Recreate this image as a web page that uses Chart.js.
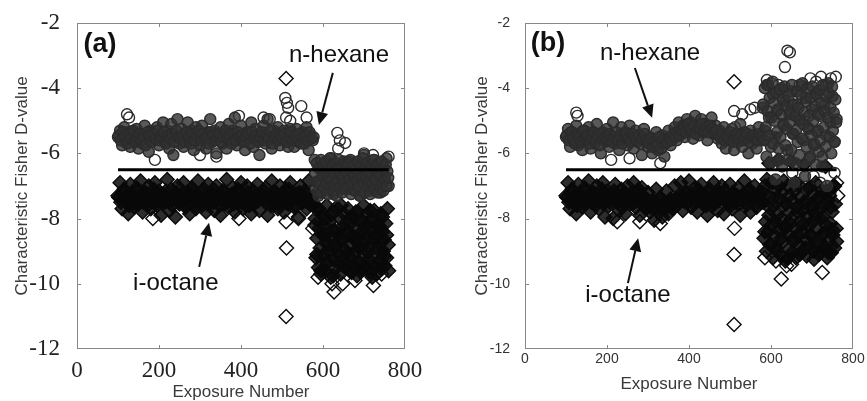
<!DOCTYPE html>
<html>
<head>
<title>Characteristic Fisher D-value</title>
<script src="https://cdn.jsdelivr.net/npm/chart.js"></script>
<style>
  body { margin: 0; background: #fff; }
  .panel { position: absolute; top: 0; height: 401px; }
  #panelA { left: 0; width: 430px; }
  #panelB { left: 430px; width: 437px; }
</style>
</head>
<body>
<div class="panel" id="panelA"><canvas id="chartA"></canvas></div>
<div class="panel" id="panelB"><canvas id="chartB"></canvas></div>
<script>
// exposure numbers sampled along the run
const exposures = [
  100,105,110,115,120,125,130,135,140,145,150,155,160,165,170,175,180,185,190,195,
  200,205,210,215,220,225,230,235,240,245,250,255,260,265,270,275,280,285,290,295,
  300,305,310,315,320,325,330,335,340,345,350,355,360,365,370,375,380,385,390,395,
  400,405,410,415,420,425,430,435,440,445,450,455,460,465,470,475,480,485,490,495,
  500,505,510,515,520,525,530,535,540,545,550,555,560,565,570,575,580,585,590,595,
  600,605,610,615,620,625,630,635,640,645,650,655,660,665,670,675,680,685,690,695,
  700,705,710,715,720,725,730,735,740,745,750,755,760
];
// in-between exposures of the first part of the run
const midExposures = [
  102,107,112,117,122,127,132,137,142,147,152,157,162,167,172,177,182,187,192,197,
  202,207,212,217,222,227,232,237,242,247,252,257,262,267,272,277,282,287,292,297,
  302,307,312,317,322,327,332,337,342,347,352,357,362,367,372,377,382,387,392,397,
  402,407,412,417,422,427,432,437,442,447,452,457,462,467,472,477,482,487,492,497,
  502,507,512,517,522,527,532,537,542,547,552,557,562,567,572,577
];
// finer sampling of the last part of the run
const lateExposures = [
  581,583,585,587,589,591,593,595,597,599,601,603,605,607,609,611,613,615,617,619,
  621,623,625,627,629,631,633,635,637,639,641,643,645,647,649,651,653,655,657,659,
  661,663,665,667,669,671,673,675,677,679,681,683,685,687,689,691,693,695,697,699,
  701,703,705,707,709,711,713,715,717,719,721,723,725,727,729,731,733,735,737,739,
  741,743,745,747,749,751,753,755,757,759
];

// (a) D-values
const hexaneA = [
  -5.5,-5.3,-5.75,-5.2,-5.6,-5.35,-5.8,-5.35,-5.65,-5.25,
  -5.85,-5.4,-5.7,-5.15,-5.55,-5.95,-5.3,-5.6,-5.5,-5.2,
  -5.75,-5.45,-5.05,-5.65,-5.3,-5.85,-5.1,-6.05,-5.5,-4.95,
  -5.7,-5.25,-5.8,-5.4,-5.05,-5.6,-5.3,-5.9,-5.2,-5.55,
  -5.75,-5.15,-5.5,-5.85,-5.35,-4.95,-5.65,-5.3,-6.0,-5.45,
  -5.2,-5.7,-5.4,-5.85,-5.1,-5.6,-5.3,-4.9,-5.75,-5.45,
  -5.15,-5.65,-5.9,-5.35,-5.55,-5.05,-5.8,-5.25,-5.6,-6.05,
  -5.4,-5.15,-5.7,-4.95,-5.5,-5.85,-5.3,-5.6,-5.2,-5.75,
  -5.45,-5.3,-5.6,-5.8,-5.25,-5.55,-5.8,-5.25,-5.65,-5.4,
  -5.35,-5.7,-5.2,-5.9,-5.45,-5.6,
  -6.2,-6.9,-6.45,-7.2,-6.6,-6.3,-7.0,-6.7,-6.15,-7.25,
  -6.5,-6.85,-6.4,-6.6,-7.05,-6.3,-6.95,-6.25,-7.1,-6.55,
  -6.8,-6.35,-7.3,-6.6,-6.05,-6.9,-6.45,-7.15,-6.7,-6.2,
  -6.95,-6.5,-7.2,-6.4,-6.75,-6.15,-7.0
];
const hexaneAMid = [
  -5.45,-5.6,-5.35,-5.5,-5.7,-5.4,-5.55,-5.3,-5.65,-5.5,
  -5.4,-5.6,-5.5,-5.75,-5.35,-5.45,-5.65,-5.4,-5.55,-5.3,
  -5.6,-5.5,-5.35,-5.7,-5.45,-5.55,-5.4,-5.65,-5.3,-5.5,
  -5.55,-5.45,-5.65,-5.35,-5.5,-5.7,-5.4,-5.6,-5.45,-5.3,
  -5.6,-5.4,-5.55,-5.5,-5.7,-5.35,-5.45,-5.6,-5.5,-5.4,
  -5.65,-5.5,-5.3,-5.55,-5.45,-5.7,-5.4,-5.6,-5.35,-5.5,
  -5.45,-5.6,-5.5,-5.4,-5.7,-5.35,-5.55,-5.45,-5.65,-5.5,
  -5.35,-5.6,-5.45,-5.55,-5.3,-5.7,-5.5,-5.4,-5.6,-5.45,
  -5.55,-5.4,-5.65,-5.5,-5.35,-5.6,-5.45,-5.55,-5.4,-5.7,
  -5.5,-5.45,-5.6,-5.35,-5.55,-5.5
];
const hexaneALate = [
  -6.6,-7.1,-6.3,-6.85,-7.3,-6.45,-6.95,-6.2,-7.2,-6.7,
  -6.4,-7.05,-6.55,-6.25,-6.9,-7.25,-6.5,-6.75,-6.15,-7.0,
  -6.8,-6.35,-7.15,-6.6,-6.95,-6.3,-7.3,-6.5,-6.85,-6.2,
  -7.05,-6.65,-6.4,-7.2,-6.75,-6.25,-6.9,-7.1,-6.45,-6.6,
  -6.3,-7.0,-6.8,-6.2,-7.25,-6.55,-6.95,-6.35,-6.7,-7.15,
  -6.5,-6.85,-6.25,-7.05,-6.6,-7.3,-6.4,-6.75,-6.15,-6.9,
  -7.2,-6.45,-6.7,-6.3,-7.0,-6.55,-6.85,-7.25,-6.35,-6.65,
  -6.95,-6.2,-7.1,-6.5,-6.8,-6.4,-7.2,-6.6,-6.3,-7.05,
  -6.7,-6.25,-6.9,-7.15,-6.45,-6.8,-6.35,-7.0,-6.55,-6.75
];
const octaneA = [
  -7.3,-6.9,-7.7,-7.1,-7.5,-7.85,-6.95,-7.4,-7.65,-7.05,
  -7.55,-6.85,-7.8,-7.2,-7.45,-7.0,-7.7,-7.35,-6.9,-7.6,
  -7.15,-7.9,-7.25,-7.5,-6.8,-7.75,-7.1,-7.4,-7.95,-7.0,
  -7.55,-7.3,-6.9,-7.65,-7.2,-7.85,-7.05,-7.45,-7.7,-6.85,
  -7.35,-7.6,-7.1,-7.8,-6.95,-7.5,-7.25,-7.75,-7.0,-7.4,
  -7.9,-7.15,-7.55,-6.8,-7.65,-7.3,-7.05,-7.8,-7.2,-7.45,
  -6.9,-7.7,-7.35,-7.0,-7.6,-7.85,-7.15,-7.5,-6.95,-7.75,
  -7.25,-7.4,-7.05,-7.9,-7.3,-6.85,-7.6,-7.2,-7.7,-7.0,
  -7.45,-7.8,-7.1,-7.55,-6.9,-7.35,-7.65,-7.25,-7.95,-7.0,
  -7.5,-7.15,-7.7,-6.85,-7.4,-7.6,
  -8.2,-9.1,-7.7,-9.6,-8.5,-8.0,-9.3,-8.8,-7.9,-9.75,
  -8.4,-9.0,-8.65,-7.6,-9.45,-8.3,-9.2,-8.0,-9.65,-8.55,
  -7.8,-9.35,-8.9,-8.15,-9.55,-8.45,-9.05,-7.75,-9.8,-8.6,
  -8.25,-9.4,-8.75,-7.95,-9.15,-8.5,-9.6
];
const octaneAMid = [
  -7.35,-7.5,-7.2,-7.45,-7.3,-7.6,-7.25,-7.4,-7.55,-7.15,
  -7.4,-7.3,-7.5,-7.2,-7.6,-7.35,-7.45,-7.1,-7.55,-7.3,
  -7.25,-7.5,-7.4,-7.15,-7.45,-7.35,-7.6,-7.3,-7.2,-7.5,
  -7.4,-7.25,-7.55,-7.35,-7.45,-7.1,-7.5,-7.3,-7.6,-7.4,
  -7.2,-7.45,-7.35,-7.55,-7.25,-7.4,-7.5,-7.15,-7.35,-7.6,
  -7.3,-7.45,-7.2,-7.5,-7.4,-7.25,-7.55,-7.35,-7.1,-7.45,
  -7.5,-7.3,-7.6,-7.2,-7.4,-7.35,-7.55,-7.25,-7.45,-7.3,
  -7.4,-7.15,-7.5,-7.35,-7.6,-7.2,-7.45,-7.3,-7.55,-7.4,
  -7.25,-7.5,-7.35,-7.1,-7.45,-7.3,-7.6,-7.4,-7.2,-7.5,
  -7.35,-7.45,-7.25,-7.55,-7.4,-7.3
];
const octaneALate = [
  -8.0,-9.2,-8.6,-7.7,-9.5,-8.3,-8.9,-9.7,-7.9,-8.5,
  -9.1,-8.2,-9.6,-8.75,-7.6,-9.35,-8.45,-9.0,-8.1,-9.8,
  -8.6,-7.8,-9.25,-8.35,-9.55,-8.85,-7.65,-9.1,-8.5,-9.4,
  -8.0,-9.7,-8.7,-8.25,-9.3,-7.85,-8.95,-9.5,-8.4,-9.05,
  -7.7,-8.8,-9.6,-8.15,-9.2,-8.55,-7.95,-9.45,-8.65,-9.0,
  -8.3,-9.75,-7.8,-8.9,-9.35,-8.45,-9.6,-8.05,-8.75,-7.6,
  -9.15,-8.6,-9.5,-8.2,-7.9,-9.25,-8.85,-9.65,-8.35,-8.0,
  -9.4,-8.7,-7.75,-9.05,-8.5,-9.7,-8.1,-8.95,-9.3,-8.25,
  -7.85,-9.55,-8.4,-9.0,-8.65,-9.45,-8.15,-9.2,-7.7,-8.8
];
// isolated (exposure, D-value) readings away from the main clouds in (a)
const hexaneAStray = [
  [122,-4.8],[127,-4.9],[190,-6.2],[300,-6.05],[340,-6.1],[395,-4.85],[455,-4.9],[470,-4.95],
  [508,-4.3],[512,-4.45],[515,-4.6],[510,-4.9],[520,-5.0],[547,-4.55],[560,-4.9],
  [635,-5.37],[641,-5.6],[654,-5.68],[637,-5.85],[700,-6.0],[722,-6.05],[760,-6.1]
];
const octaneAStray = [
  [510,-3.7],[510,-8.1],[511,-8.9],[510,-11.0],[185,-8.0],[395,-8.0],[540,-8.0],[575,-8.3],
  [588,-9.8],[622,-10.0],[627,-10.25],[648,-10.0],[678,-9.9],[723,-10.05],[743,-9.7]
];

// (b) D-values
const hexaneB = [
  -5.5,-5.25,-5.8,-5.35,-5.65,-5.15,-5.75,-5.45,-5.9,-5.3,
  -5.6,-5.2,-5.85,-5.4,-5.7,-5.1,-5.55,-6.0,-5.35,-5.65,
  -5.25,-5.8,-5.45,-5.05,-5.7,-5.5,-5.9,-5.2,-5.6,-5.35,
  -5.75,-5.15,-5.55,-5.85,-5.3,-5.65,-5.45,-6.05,-5.25,-5.6,
  -5.8,-5.5,-6.0,-5.65,-5.35,-5.9,-5.7,-5.45,-6.1,-5.55,
  -5.3,-5.75,-5.45,-5.2,-5.6,-5.05,-5.4,-5.15,-5.5,-4.95,
  -5.3,-5.05,-5.55,-4.85,-5.25,-5.45,-4.95,-5.35,-5.1,-5.6,
  -5.2,-4.9,-5.4,-5.15,-5.55,-5.3,-5.7,-5.2,-5.85,-5.45,
  -5.6,-5.25,-5.9,-5.4,-5.65,-5.1,-5.8,-5.35,-5.55,-6.0,
  -5.3,-5.7,-5.45,-5.85,-5.2,-5.6,
  -4.6,-5.3,-3.9,-4.9,-5.8,-4.2,-5.5,-4.7,-6.2,-4.0,
  -5.1,-4.4,-5.9,-4.8,-4.1,-5.4,-6.3,-4.5,-5.0,-3.95,
  -5.6,-4.3,-5.2,-6.1,-4.65,-5.75,-4.15,-5.3,-4.85,-6.4,
  -4.5,-5.45,-3.85,-5.05,-4.25,-5.65,-4.95
];
const hexaneBMid = [
  -5.45,-5.6,-5.35,-5.55,-5.7,-5.4,-5.5,-5.65,-5.3,-5.55,
  -5.45,-5.7,-5.5,-5.35,-5.6,-5.45,-5.75,-5.4,-5.55,-5.5,
  -5.6,-5.4,-5.65,-5.5,-5.35,-5.6,-5.45,-5.7,-5.5,-5.4,
  -5.55,-5.65,-5.4,-5.5,-5.6,-5.45,-5.7,-5.55,-5.4,-5.6,
  -5.7,-5.55,-5.8,-5.65,-5.75,-5.5,-5.85,-5.6,-5.7,-5.65,
  -5.55,-5.6,-5.4,-5.5,-5.35,-5.45,
  -5.3,-5.2,-5.35,-5.1,-5.25,-5.3,-5.15,-5.4,-5.2,-5.25,
  -5.1,-5.3,-5.2,-5.35,-5.15,-5.25,-5.35,-5.3,
  -5.45,-5.5,-5.4,-5.6,-5.45,-5.55,-5.35,-5.65,-5.5,-5.4,
  -5.55,-5.45,-5.6,-5.5,-5.4,-5.65,-5.5,-5.45,-5.55,-5.6,-5.4,-5.5
];
const hexaneBLate = [
  -4.5,-5.6,-4.0,-5.2,-6.1,-4.7,-3.9,-5.45,-4.3,-6.3,
  -4.9,-3.85,-5.7,-4.45,-5.0,-6.8,-4.15,-5.35,-4.65,-5.85,
  -4.05,-5.5,-4.8,-6.4,-4.35,-5.15,-3.95,-5.75,-4.55,-5.25,
  -6.2,-4.25,-5.05,-4.7,-5.9,-3.9,-5.4,-4.5,-6.9,-4.85,
  -5.3,-4.1,-5.65,-4.6,-6.05,-4.95,-4.2,-5.55,-3.85,-5.1,
  -4.75,-6.7,-4.4,-5.8,-4.0,-5.25,-4.85,-6.15,-4.3,-5.45,
  -3.95,-5.0,-5.7,-4.55,-6.35,-4.2,-5.35,-4.8,-5.95,-4.05,
  -5.6,-4.45,-6.1,-3.9,-5.2,-4.7,-5.8,-4.25,-7.0,-4.9,
  -4.15,-5.5,-4.6,-6.0,-3.95,-5.3,-4.75,-5.65,-4.35,-5.05
];
const octaneB = [
  -7.3,-6.9,-7.7,-7.1,-7.55,-7.85,-6.95,-7.4,-7.65,-7.05,
  -7.5,-6.85,-7.8,-7.2,-7.45,-7.0,-7.7,-7.35,-6.9,-7.95,
  -7.15,-7.6,-7.25,-8.0,-6.95,-7.5,-7.75,-7.1,-7.4,-7.85,
  -7.0,-7.55,-7.3,-6.9,-7.65,-7.2,-7.9,-7.05,-7.45,-7.7,
  -7.2,-7.8,-7.45,-8.05,-7.1,-7.65,-7.35,-7.95,-7.55,-7.15,
  -7.85,-7.4,-7.7,-7.0,-7.6,-7.3,-6.9,-7.75,-7.2,-7.5,
  -6.85,-7.65,-7.35,-7.05,-7.8,-7.25,-6.95,-7.55,-7.4,-7.9,
  -7.1,-7.6,-6.9,-7.45,-7.75,-7.2,-7.0,-7.85,-7.35,-7.55,
  -6.95,-7.7,-7.25,-7.5,-7.05,-7.9,-7.3,-6.85,-7.6,-7.15,
  -7.8,-7.4,-7.0,-7.65,-7.25,-7.5,
  -7.2,-8.4,-6.8,-7.9,-8.8,-7.4,-8.1,-9.0,-7.0,-8.6,
  -7.6,-8.3,-9.2,-7.3,-8.0,-8.7,-6.9,-7.8,-9.1,-8.2,
  -7.5,-8.9,-7.1,-8.5,-7.7,-9.0,-8.0,-7.35,-8.8,-7.95,
  -8.45,-7.15,-9.05,-7.65,-8.35,-7.0,-8.7
];
const octaneBMid = [
  -7.35,-7.5,-7.2,-7.45,-7.3,-7.6,-7.25,-7.4,-7.55,-7.15,
  -7.4,-7.3,-7.5,-7.2,-7.6,-7.35,-7.45,-7.1,-7.55,-7.3,
  -7.25,-7.5,-7.4,-7.15,-7.45,-7.35,-7.6,-7.3,-7.2,-7.5,
  -7.4,-7.25,-7.55,-7.35,-7.45,-7.1,-7.5,-7.3,-7.6,-7.4,
  -7.5,-7.65,-7.45,-7.7,-7.55,-7.4,-7.75,-7.6,-7.5,-7.65,
  -7.55,-7.45,-7.6,-7.4,-7.5,-7.35,
  -7.3,-7.45,-7.2,-7.5,-7.4,-7.25,-7.55,-7.35,-7.1,-7.45,
  -7.5,-7.3,-7.6,-7.2,-7.4,-7.35,-7.55,-7.25,-7.45,-7.3,
  -7.4,-7.15,-7.5,-7.35,-7.6,-7.2,-7.45,-7.3,-7.55,-7.4,
  -7.25,-7.5,-7.35,-7.1,-7.45,-7.3,-7.6,-7.4,-7.2,-7.5
];
const octaneBLate = [
  -7.5,-8.6,-7.0,-8.1,-9.0,-7.3,-8.4,-6.3,-8.8,-7.7,
  -8.2,-6.9,-9.2,-7.6,-8.5,-7.1,-8.9,-7.9,-6.2,-8.35,
  -7.4,-9.1,-8.0,-7.2,-8.7,-6.85,-8.25,-9.3,-7.55,-8.45,
  -7.0,-8.95,-7.8,-8.15,-6.25,-9.05,-7.45,-8.6,-7.15,-8.3,
  -9.2,-7.65,-8.5,-6.95,-8.8,-7.35,-8.05,-9.0,-7.75,-8.4,
  -6.35,-8.65,-7.5,-9.15,-7.95,-8.25,-7.05,-8.9,-7.6,-8.1,
  -8.55,-7.25,-9.25,-7.85,-6.9,-8.75,-7.4,-8.35,-9.1,-7.7,
  -8.0,-9.0,-7.15,-8.45,-7.6,-8.85,-6.4,-8.2,-9.2,-7.45,
  -8.7,-7.3,-8.15,-9.05,-7.8,-8.5,-7.0,-8.9,-7.55,-8.3
];
// isolated (exposure, D-value) readings away from the main clouds in (b)
const hexaneBStray = [
  [125,-4.75],[128,-4.85],[210,-6.2],[255,-6.15],[330,-6.3],[510,-4.7],[512,-5.2],[530,-4.8],
  [550,-4.65],[560,-4.6],[590,-3.75],[604,-3.8],[618,-3.9],[634,-3.35],[640,-2.85],[646,-2.9],
  [670,-3.9],[696,-3.7],[710,-3.8],[722,-3.65],[734,-3.9],[746,-3.7],[758,-3.65],
  [600,-6.9],[652,-6.6],[660,-7.0],[704,-6.7],[720,-6.9],[745,-7.2],[755,-6.6]
];
const octaneBStray = [
  [510,-3.8],[511,-8.3],[510,-9.1],[510,-11.25],[225,-8.1],[280,-8.1],[330,-8.15],
  [585,-9.2],[612,-9.3],[625,-9.85],[638,-9.45],[650,-9.4],[725,-9.65],[760,-6.9],[763,-7.3]
];

// decision threshold between the two classes
const thresholdX = [100, 760];
const thresholdY = [-6.5, -6.5];

const xTicks = [0, 200, 400, 600, 800];
const yTicks = [-2, -4, -6, -8, -10, -12];

function points(ys, midYs, lateYs) {
  return exposures.map((x, i) => ({ x: x, y: ys[i] }))
    .concat(midExposures.map((x, i) => ({ x: x, y: midYs[i] })))
    .concat(lateExposures.map((x, i) => ({ x: x, y: lateYs[i] })));
}
function pairs(list) {
  return list.map(p => ({ x: p[0], y: p[1] }));
}

// box around the plot area with inward tick marks on all four sides
const frame = {
  id: 'frame',
  afterDatasetsDraw(chart) {
    const { ctx, chartArea: a } = chart;
    const xs = chart.scales.x, ys = chart.scales.y;
    ctx.save();
    ctx.strokeStyle = '#888';
    ctx.lineWidth = 1;
    ctx.strokeRect(a.left + 0.5, a.top + 0.5, a.width - 1, a.height - 1);
    ctx.beginPath();
    xTicks.slice(1, -1).forEach(v => {
      const px = Math.round(xs.getPixelForValue(v)) + 0.5;
      ctx.moveTo(px, a.bottom); ctx.lineTo(px, a.bottom - 4);
      ctx.moveTo(px, a.top); ctx.lineTo(px, a.top + 4);
    });
    yTicks.slice(1, -1).forEach(v => {
      const py = Math.round(ys.getPixelForValue(v)) + 0.5;
      ctx.moveTo(a.left, py); ctx.lineTo(a.left + 4, py);
      ctx.moveTo(a.right, py); ctx.lineTo(a.right - 4, py);
    });
    ctx.stroke();
    ctx.restore();
  }
};

// panel letter, species labels and arrows
const notes = {
  id: 'notes',
  afterDatasetsDraw(chart, args, opts) {
    const ctx = chart.ctx, xs = chart.scales.x, ys = chart.scales.y;
    ctx.save();
    ctx.fillStyle = '#111';
    ctx.strokeStyle = '#111';
    ctx.textAlign = 'center';
    ctx.textBaseline = 'middle';
    opts.labels.forEach(l => {
      ctx.font = l.font;
      ctx.fillText(l.text, xs.getPixelForValue(l.x), ys.getPixelForValue(l.y));
    });
    opts.arrows.forEach(ar => {
      const x0 = xs.getPixelForValue(ar.from[0]), y0 = ys.getPixelForValue(ar.from[1]);
      const x1 = xs.getPixelForValue(ar.to[0]), y1 = ys.getPixelForValue(ar.to[1]);
      const ang = Math.atan2(y1 - y0, x1 - x0);
      const head = 13, half = 6;
      const bx = x1 - head * Math.cos(ang), by = y1 - head * Math.sin(ang);
      ctx.lineWidth = 2;
      ctx.beginPath(); ctx.moveTo(x0, y0); ctx.lineTo(bx, by); ctx.stroke();
      ctx.beginPath();
      ctx.moveTo(x1, y1);
      ctx.lineTo(bx + half * Math.sin(ang), by - half * Math.cos(ang));
      ctx.lineTo(bx - half * Math.sin(ang), by + half * Math.cos(ang));
      ctx.closePath();
      ctx.fill();
    });
    ctx.restore();
  }
};

const labelFont = '24px "Liberation Sans", Arial, sans-serif';
const letterFont = 'bold 27px "Liberation Sans", Arial, sans-serif';

const circleStyle = { pointStyle: 'circle', pointRadius: 5.5, borderWidth: 1.4, borderColor: '#2b2b2b' };
const diamondStyle = { pointStyle: 'rectRot', pointRadius: 7, borderWidth: 1.4, borderColor: '#0a0a0a' };

function makePanel(id, p) {
  return new Chart(document.getElementById(id), {
    type: 'scatter',
    data: {
      datasets: [
        {
          type: 'line',
          data: thresholdX.map((x, i) => ({ x: x, y: thresholdY[i] })),
          borderColor: '#000',
          borderWidth: 3,
          pointRadius: 0,
          order: 0
        },
        Object.assign({ label: 'n-hexane', data: p.hexane, backgroundColor: 'rgba(48,48,48,0.8)', order: 1 }, circleStyle),
        Object.assign({ label: 'i-octane', data: p.octane, backgroundColor: 'rgba(8,8,8,0.85)', order: 2 }, diamondStyle),
        Object.assign({ label: 'n-hexane', data: p.hexaneStray, backgroundColor: 'rgba(255,255,255,0)', order: 3 }, circleStyle),
        Object.assign({ label: 'i-octane', data: p.octaneStray, backgroundColor: 'rgba(255,255,255,0)', order: 4 }, diamondStyle)
      ]
    },
    options: {
      responsive: true,
      maintainAspectRatio: false,
      animation: false,
      events: [],
      layout: { padding: { top: 23, right: p.padRight, bottom: 0, left: 0 } },
      plugins: {
        legend: { display: false },
        tooltip: { enabled: false },
        notes: { labels: p.labels, arrows: p.arrows }
      },
      scales: {
        x: {
          type: 'linear',
          min: 0,
          max: 800,
          afterBuildTicks: s => { s.ticks = xTicks.map(v => ({ value: v })); },
          afterFit: s => { s.height = 52; },
          grid: { display: false },
          border: { display: false },
          ticks: { font: p.tickFont, color: p.tickColor, padding: p.xTickPad, maxRotation: 0, autoSkip: false },
          title: {
            display: true,
            text: 'Exposure Number',
            font: { family: 'Liberation Sans', size: 17 },
            color: '#3a3a3a',
            padding: { top: 0, bottom: p.xTitlePad }
          }
        },
        y: {
          type: 'linear',
          min: -12,
          max: -2,
          afterBuildTicks: s => { s.ticks = yTicks.map(v => ({ value: v })); },
          afterFit: s => { s.width = p.yWidth; },
          grid: { display: false },
          border: { display: false },
          ticks: { font: p.tickFont, color: p.tickColor, padding: p.yTickPad, autoSkip: false },
          title: {
            display: true,
            text: 'Characteristic Fisher D-value',
            font: { family: 'Liberation Sans', size: 17 },
            color: '#3a3a3a',
            padding: { top: p.yTitlePad, bottom: 0 }
          }
        }
      }
    },
    plugins: [frame, notes]
  });
}

makePanel('chartA', {
  hexane: points(hexaneA, hexaneAMid, hexaneALate),
  octane: points(octaneA, octaneAMid, octaneALate),
  hexaneStray: pairs(hexaneAStray),
  octaneStray: pairs(octaneAStray),
  padRight: 25,
  yWidth: 77,
  tickFont: { family: 'Liberation Serif', size: 23 },
  tickColor: '#222',
  xTickPad: 0,
  yTickPad: 9,
  xTitlePad: -2,
  yTitlePad: 12,
  labels: [
    { text: '(a)', x: 56, y: -2.67, font: letterFont },
    { text: 'n-hexane', x: 639, y: -2.98, font: labelFont },
    { text: 'i-octane', x: 241, y: -9.98, font: labelFont }
  ],
  arrows: [
    { from: [624, -3.53], to: [590, -5.13] },
    { from: [298, -9.48], to: [322, -8.13] }
  ]
});

makePanel('chartB', {
  hexane: points(hexaneB, hexaneBMid, hexaneBLate),
  octane: points(octaneB, octaneBMid, octaneBLate),
  hexaneStray: pairs(hexaneBStray),
  octaneStray: pairs(octaneBStray),
  padRight: 14,
  yWidth: 95,
  tickFont: { family: 'Liberation Sans', size: 14 },
  tickColor: '#333',
  xTickPad: -6,
  yTickPad: 7,
  xTitlePad: 6,
  yTitlePad: 42,
  labels: [
    { text: '(b)', x: 56, y: -2.64, font: letterFont },
    { text: 'n-hexane', x: 305, y: -2.92, font: labelFont },
    { text: 'i-octane', x: 251, y: -10.34, font: labelFont }
  ],
  arrows: [
    { from: [268, -3.38], to: [310, -4.91] },
    { from: [251, -9.98], to: [276, -8.6] }
  ]
});
</script>
</body>
</html>
